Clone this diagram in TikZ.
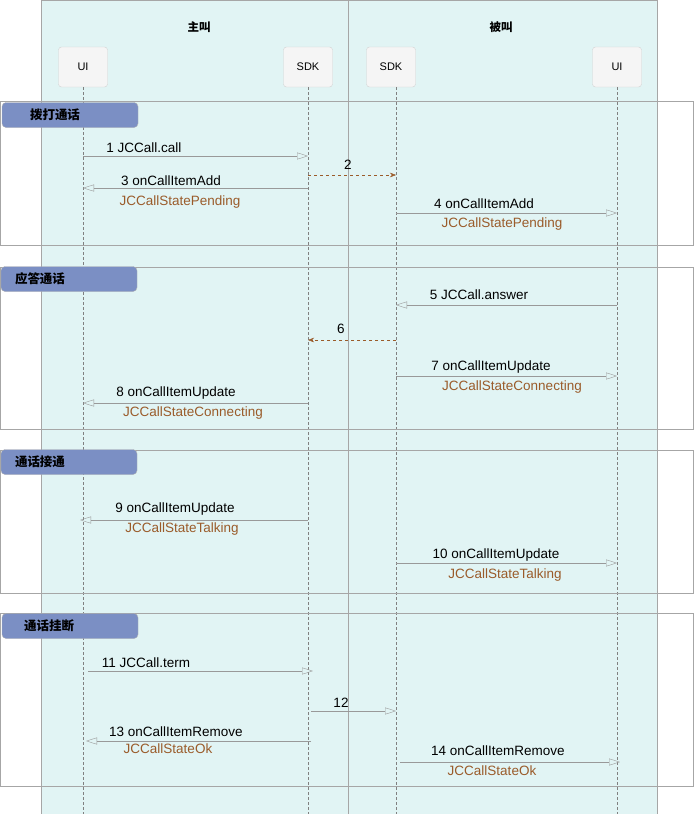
\documentclass[tikz,border=0pt]{standalone}
\usepackage{fontspec}
\setmainfont{Liberation Sans}
\newfontfamily\cjk{Noto Sans CJK SC}
\usetikzlibrary{arrows.meta}
\definecolor{panel}{HTML}{E1F4F4}
\definecolor{tagblue}{HTML}{7B8FC4}
\definecolor{statebrown}{HTML}{9A5B2A}
\tikzset{
  actor/.style={draw=gray!35, fill=gray!8, rounded corners=3pt, minimum width=49pt, minimum height=40pt, font=\fontsize{11}{13}\selectfont},
  tag/.style={draw=gray!60, fill=tagblue, rounded corners=4pt, minimum width=136pt, minimum height=25pt, font=\fontsize{12.5}{14}\selectfont\cjk\bfseries},
  msg/.style={draw=gray!80, -{Triangle[open,length=11pt,width=7pt]}},
  reply/.style={draw=statebrown, dashed, -{Stealth[length=6pt]}},
  lbl/.style={font=\fontsize{13.5}{15}\selectfont},
  st/.style={font=\fontsize{13.5}{15}\selectfont, text=statebrown},
}
\begin{document}
\begin{tikzpicture}[x=1pt, y=-1pt]
\useasboundingbox (0,0) rectangle (695,814);

% panels
\draw[gray!70, fill=panel] (41,0) rectangle (348,814);
\draw[gray!70, fill=panel] (348,0) rectangle (657,814);
\node[lbl, font=\fontsize{11.5}{13}\selectfont\cjk\bfseries] (hcaller) at (199,27) {主叫};
\node[lbl, font=\fontsize{11.5}{13}\selectfont\cjk\bfseries] (hcallee) at (501,27) {被叫};

% actors and lifelines
\node[actor] (ui1) at (83,67) {UI};
\node[actor] (sdk1) at (308,67) {SDK};
\node[actor] (sdk2) at (391,67) {SDK};
\node[actor] (ui2) at (617,67) {UI};
\foreach \n/\x in {ui1/83, sdk1/308, sdk2/396, ui2/617}
  \draw[gray, dashed, dash pattern=on 3pt off 2pt] (\x,87) -- (\x,814);

% phase frames
\foreach \a/\b in {101/245, 267/429, 450/593, 613/786}
  \draw[gray!70] (0,\a) rectangle (693,\b);
\node[tag, text width=120pt] (p1) at (70,115) {\hspace*{20pt}拨打通话};
\node[tag, text width=120pt] (p2) at (69,279) {\hspace*{6pt}应答通话};
\node[tag, text width=120pt] (p3) at (69,462) {\hspace*{6pt}通话接通};
\node[tag, text width=120pt] (p4) at (70,626) {\hspace*{14pt}通话挂断};

% messages
\coordinate (a1) at (83,156);  \coordinate (b1) at (308,156);
\draw[msg] (a1) -- (b1);
\node[lbl] at (144,148) {1 JCCall.call};
\coordinate (a2) at (308,175); \coordinate (b2) at (396,175);
\draw[reply] (a2) -- (b2);
\node[lbl] at (348,165) {2};
\coordinate (a3) at (308,188); \coordinate (b3) at (83,188);
\draw[msg] (a3) -- (b3);
\node[lbl] at (171,181) {3 onCallItemAdd};
\node[st] at (180,202) {JCCallStatePending};
\coordinate (a4) at (396,213); \coordinate (b4) at (617,213);
\draw[msg] (a4) -- (b4);
\node[lbl] at (484,204) {4 onCallItemAdd};
\node[st] at (502,224) {JCCallStatePending};

\coordinate (a5) at (617,305); \coordinate (b5) at (396,305);
\draw[msg] (a5) -- (b5);
\node[lbl] at (479,295) {5 JCCall.answer};
\coordinate (a6) at (396,340); \coordinate (b6) at (308,340);
\draw[reply] (a6) -- (b6);
\node[lbl] at (341,329) {6};
\coordinate (a7) at (396,376); \coordinate (b7) at (617,376);
\draw[msg] (a7) -- (b7);
\node[lbl] at (491,367) {7 onCallItemUpdate};
\node[st] at (512,387) {JCCallStateConnecting};
\coordinate (a8) at (308,403); \coordinate (b8) at (83,403);
\draw[msg] (a8) -- (b8);
\node[lbl] at (176,393) {8 onCallItemUpdate};
\node[st] at (193,413) {JCCallStateConnecting};

\coordinate (a9) at (308,520); \coordinate (b9) at (80,520);
\draw[msg] (a9) -- (b9);
\node[lbl] at (175,509) {9 onCallItemUpdate};
\node[st] at (182,529) {JCCallStateTalking};
\coordinate (a10) at (396,563); \coordinate (b10) at (617,563);
\draw[msg] (a10) -- (b10);
\node[lbl] at (496,555) {10 onCallItemUpdate};
\node[st] at (505,575) {JCCallStateTalking};

\coordinate (a11) at (88,671); \coordinate (b11) at (313,671);
\draw[msg] (a11) -- (b11);
\node[lbl] at (146,663) {11 JCCall.term};
\coordinate (a12) at (311,711); \coordinate (b12) at (396,711);
\draw[msg] (a12) -- (b12);
\node[lbl] at (341,703) {12};
\coordinate (a13) at (311,741); \coordinate (b13) at (86,741);
\draw[msg] (a13) -- (b13);
\node[lbl] at (176,732) {13 onCallItemRemove};
\node[st] at (168,749) {JCCallStateOk};
\coordinate (a14) at (400,762); \coordinate (b14) at (620,762);
\draw[msg] (a14) -- (b14);
\node[lbl] at (498,751) {14 onCallItemRemove};
\node[st] at (492,771) {JCCallStateOk};
\end{tikzpicture}
\end{document}
